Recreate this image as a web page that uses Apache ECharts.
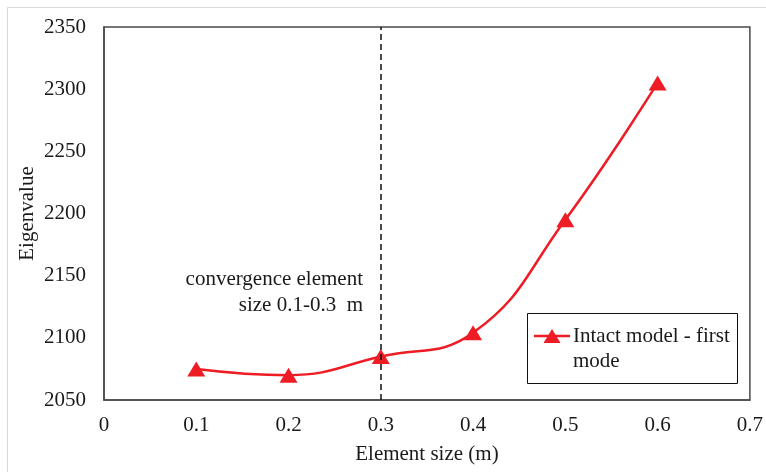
<!DOCTYPE html>
<html>
<head>
<meta charset="utf-8">
<script src="https://cdn.jsdelivr.net/npm/echarts@6/dist/echarts.min.js"></script>
<style>
  html, body { margin: 0; padding: 0; background: #fff; }
  #chart { width: 766px; height: 472px; }
</style>
</head>
<body>
<div id="chart"></div>
<script>
// Element sizes (m) and the first-mode eigenvalue of the intact model
const elementSizes = [0.1, 0.2, 0.3, 0.4, 0.5, 0.6];
const eigenvalues = [2075, 2070, 2085, 2104, 2195, 2305];
const convergenceLimit = 0.3;
const seriesName = 'Intact model - first mode';
const legendLines = ['Intact model - first', 'mode'];
const noteLines = ['convergence element', 'size 0.1-0.3  m'];

const FONT = '"Liberation Serif", "Times New Roman", serif';
const FS = 21;
const RED = '#ee1c25';
const AXIS = '#4a4a4a';
const TEXT = '#1a1a1a';

const chart = echarts.init(document.getElementById('chart'), null, { renderer: 'canvas' });

const grid = { left: 104, right: 16, top: 27, bottom: 72 };

chart.setOption({
  backgroundColor: '#fff',
  animation: false,
  grid: Object.assign({ show: true, borderColor: AXIS, borderWidth: 1.5, backgroundColor: 'transparent' }, grid),
  xAxis: {
    type: 'value',
    min: 0, max: 0.7, interval: 0.1,
    name: 'Element size (m)',
    nameLocation: 'middle',
    nameGap: 44,
    nameTextStyle: { fontFamily: FONT, fontSize: FS, color: TEXT },
    axisLine: { show: true, onZero: false, lineStyle: { color: AXIS, width: 1.5 } },
    axisTick: { show: false },
    splitLine: { show: false },
    axisLabel: { fontFamily: FONT, fontSize: FS, color: TEXT, margin: 15,
                 formatter: v => String(Math.round(v * 10) / 10) }
  },
  yAxis: {
    type: 'value',
    min: 2050, max: 2350, interval: 50,
    name: 'Eigenvalue',
    nameLocation: 'middle',
    nameGap: 66,
    nameMoveOverlap: false,
    nameTextStyle: { fontFamily: FONT, fontSize: FS, color: TEXT },
    axisLine: { show: true, lineStyle: { color: AXIS, width: 1.5 } },
    axisTick: { show: false },
    splitLine: { show: false },
    axisLabel: { fontFamily: FONT, fontSize: FS, color: TEXT, margin: 18,
                 formatter: v => String(v) }
  },
  series: [{
    name: seriesName,
    type: 'line',
    data: elementSizes.map((x, i) => [x, eigenvalues[i]]),
    smooth: 0.45,
    symbol: 'triangle',
    symbolSize: [18, 15],
    itemStyle: { color: RED },
    lineStyle: { color: RED, width: 2.5 },
    markLine: {
      silent: true,
      symbol: 'none',
      label: { show: false },
      lineStyle: { color: '#111', type: [6, 4], width: 1.5 },
      data: [{ xAxis: convergenceLimit }]
    },
    z: 3
  }],
  graphic: [
    // light frame around the chart area
    { type: 'rect', shape: { x: 7.5, y: 7.5, width: 820, height: 520 },
      style: { fill: 'none', stroke: '#d9d9d9', lineWidth: 1 }, silent: true, z: -1 },
    // annotation next to the convergence line
    { type: 'text', x: 363, y: 292,
      style: { text: noteLines.join('\n'), fontFamily: FONT, fontSize: FS, fill: TEXT,
               align: 'right', verticalAlign: 'middle', lineHeight: 26 } },
    // legend box
    { type: 'group', left: 527, top: 313, children: [
      { type: 'rect', shape: { x: 0.5, y: 0.5, width: 210, height: 70 },
        style: { fill: '#fff', stroke: '#111', lineWidth: 1 } },
      { type: 'line', shape: { x1: 7, y1: 23, x2: 43, y2: 23 },
        style: { stroke: RED, lineWidth: 2.5 } },
      { type: 'polygon', shape: { points: [[25, 16], [33.5, 30], [16.5, 30]] },
        style: { fill: RED } },
      { type: 'text', x: 46, y: 23,
        style: { text: legendLines[0], fontFamily: FONT, fontSize: FS, fill: TEXT,
                 verticalAlign: 'middle' } },
      { type: 'text', x: 46, y: 48,
        style: { text: legendLines[1], fontFamily: FONT, fontSize: FS, fill: TEXT,
                 verticalAlign: 'middle' } }
    ] }
  ]
});
</script>
</body>
</html>
